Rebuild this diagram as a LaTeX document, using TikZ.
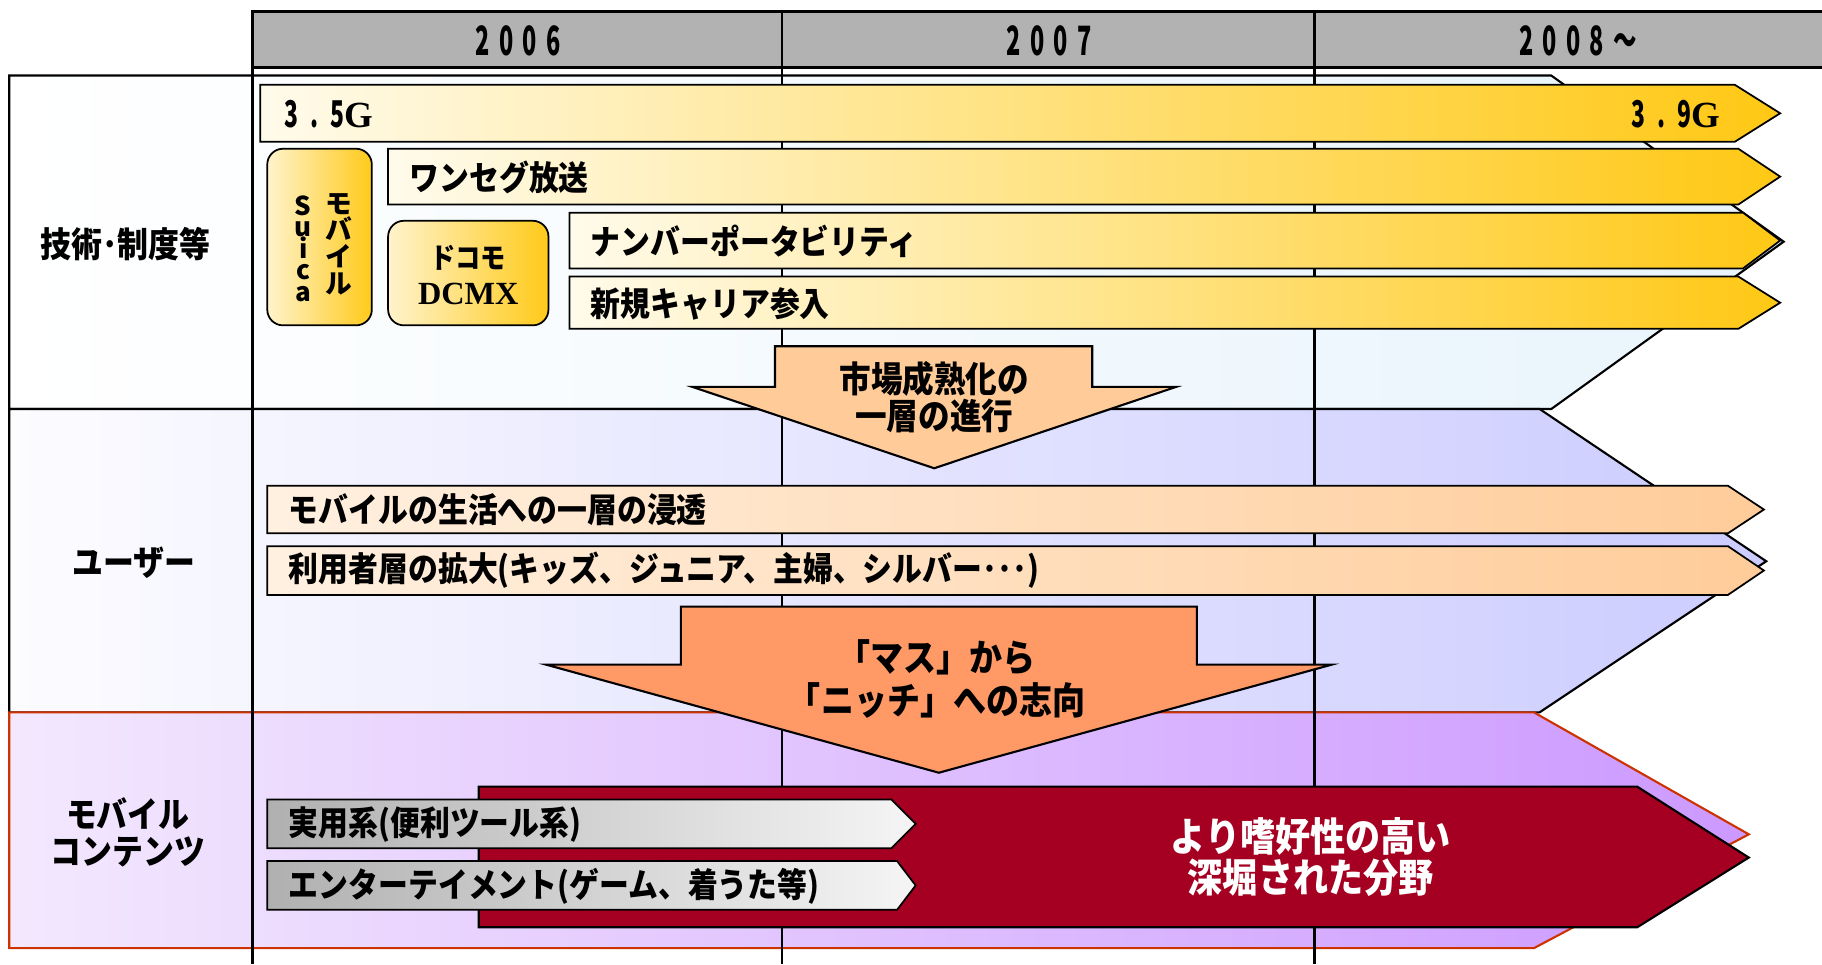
\documentclass[tikz,border=0pt]{standalone}
\usepackage{fontspec}
\usepackage{graphicx}
\setmainfont{Noto Sans CJK JP}
\newfontfamily\tmsfont{Liberation Serif}
\newcommand\myfs[2]{\fontsize{#1}{#2}\selectfont\lineskiplimit=-20pt\relax}
\newcommand\tallt[1]{\scalebox{1}[1.13]{#1}}
\definecolor{hdrgray}{HTML}{B2B2B2}
\definecolor{rowblue}{HTML}{E8F4FC}
\definecolor{rowlav}{HTML}{CCCCFF}
\definecolor{rowlavL}{HTML}{FCFCFF}
\definecolor{rowpur}{HTML}{CC99FF}
\definecolor{rowpurL}{HTML}{F3E8FE}
\definecolor{redline}{HTML}{CC3300}
\definecolor{yelL}{HTML}{FFFBEB}
\definecolor{yelR}{HTML}{FFC814}
\definecolor{boxL}{HTML}{FFF3CC}
\definecolor{boxR}{HTML}{FFCA1A}
\definecolor{orgL}{HTML}{FFF0E0}
\definecolor{orgR}{HTML}{FFCC99}
\definecolor{lightorg}{HTML}{FFCC99}
\definecolor{salmon}{HTML}{FF9966}
\definecolor{darkred}{HTML}{A50021}
\definecolor{grayL}{HTML}{B0B0B0}
\definecolor{grayR}{HTML}{F5F5F5}
\begin{document}
\begin{tikzpicture}[x=0.01162cm,y=-0.01162cm,
  rowline/.style={draw=black, line width=0.6pt},
  gridline/.style={draw=black, line width=0.8pt},
  yelbar/.style={draw=black, line width=0.5pt, left color=yelL, right color=yelR},
  yelbox/.style={draw=black, line width=0.5pt, left color=boxL, right color=boxR, rounded corners=4.5pt},
  orgbar/.style={draw=black, line width=0.5pt, left color=orgL, right color=orgR},
  graybar/.style={draw=black, line width=0.5pt, left color=grayL, right color=grayR},
  bigarrow/.style={draw=black, line width=0.6pt},
  bartext/.style={font=\bfseries\myfs{8.5}{10}, inner sep=0pt, anchor=west},
  rowlabel/.style={font=\bfseries\myfs{8.8}{10.2}, inner sep=0pt},
  yeartext/.style={font=\bfseries\myfs{11.5}{12}, inner sep=0pt},
  arrowtext/.style={font=\bfseries\myfs{9}{10.2}, inner sep=0pt},
  nichetext/.style={font=\bfseries\myfs{9.4}{11}, inner sep=0pt},
  deeptext/.style={font=\bfseries\myfs{10}{11}, inner sep=0pt, text=white}
]
\useasboundingbox (0,0) rectangle (1568,830);
\fill[white] (0,0) rectangle (1568,830);

% row backgrounds
\path[rowline, left color=white, right color=rowblue]
  (8,65) -- (1335,65) -- (1535,208) -- (1335,352) -- (8,352) -- cycle;
\path[rowline, left color=rowlavL, right color=rowlav]
  (8,352) -- (1325,352) -- (1520,483) -- (1325,613) -- (8,613) -- cycle;
\path[draw=redline, line width=0.6pt, left color=rowpurL, right color=rowpur]
  (8,613) -- (1320,613) -- (1505,718) -- (1320,816) -- (8,816) -- cycle;

% grid lines
\draw[gridline] (217,10) -- (217,830);
\draw[gridline] (673,10) -- (673,830);
\draw[gridline] (1131,10) -- (1131,830);

% header
\path[draw=black, line width=0.8pt, fill=hdrgray] (217,10) rectangle (1575,58);
\draw[gridline] (673,10) -- (673,58);
\draw[gridline] (1131,10) -- (1131,58);
\node[yeartext] (y2006) at (446,35) {\scalebox{0.58}[1]{2\hspace{4.6pt}0\hspace{4.6pt}0\hspace{4.6pt}6}};
\node[yeartext] (y2007) at (903,35) {\scalebox{0.58}[1]{2\hspace{4.6pt}0\hspace{4.6pt}0\hspace{4.6pt}7}};
\node[yeartext] (y2008) at (1358,35) {\scalebox{0.58}[1]{2\hspace{4.6pt}0\hspace{4.6pt}0\hspace{4.6pt}8\hspace{4.6pt}～}};

% row labels
\node[rowlabel] (lab1) at (108,210) {\tallt{技術･制度等}};
\node[rowlabel] (lab2) at (115,484) {\tallt{ユーザー}};
\node[rowlabel] (lab3a) at (110,700) {\tallt{モバイル}};
\node[rowlabel] (lab3b) at (110,733) {\tallt{コンテンツ}};

% yellow bars
\path[yelbar] (224,73) -- (1493,73) -- (1532,97.5) -- (1493,122) -- (224,122) -- cycle;
\path[yelbar] (334,128) -- (1496,128) -- (1532,152) -- (1496,176) -- (334,176) -- cycle;
\path[yelbar] (490,183) -- (1500,183) -- (1532,207) -- (1500,231) -- (490,231) -- cycle;
\path[yelbar] (490,238) -- (1496,238) -- (1532,260.5) -- (1496,283) -- (490,283) -- cycle;
\node[font=\bfseries\myfs{10.5}{11}, inner sep=0pt, anchor=west] (g35) at (244,98)
  {\scalebox{0.62}[1]{3\hspace{5.5pt}.\hspace{5.5pt}5}{\tmsfont\bfseries\myfs{10.5}{11}G}};
\node[font=\bfseries\myfs{10.5}{11}, inner sep=0pt, anchor=east] (g39) at (1481,98)
  {\scalebox{0.62}[1]{3\hspace{5.5pt}.\hspace{5.5pt}9}{\tmsfont\bfseries\myfs{10.5}{11}G}};
\node[bartext] (oneseg) at (352,153) {\tallt{ワンセグ放送}};
\node[bartext] (mnp) at (508,208) {\tallt{ナンバーポータビリティ}};
\node[bartext] (newcar) at (508,262) {\tallt{新規キャリア参入}};

% Suica / DCMX boxes
\path[yelbox] (230,128) rectangle (320,280);
\node[font=\bfseries\myfs{7.6}{7.6}, inner sep=0pt, align=center] (mob) at (292,210) {モ\\バ\\イ\\ル};
\node[font=\bfseries\myfs{7.4}{6.1}, inner sep=0pt, align=center] (suica) at (261,214) {S\\u\\i\\c\\a};
\path[yelbox] (334,190) rectangle (472,280);
\node[font=\bfseries\myfs{7.2}{8}, inner sep=0pt] (docomo) at (403,222) {\tallt{ドコモ}};
\node[font=\tmsfont\bfseries\myfs{9.2}{10}, inner sep=0pt] (dcmx) at (403,253) {DCMX};

% market maturity arrow
\path[bigarrow, fill=lightorg] (667,298) -- (940,298) -- (940,333) -- (1012,333) -- (804,403) -- (596,333) -- (667,333) -- cycle;
\node[arrowtext] (mature1) at (804,326) {\tallt{市場成熟化の}};
\node[arrowtext] (mature2) at (804,358) {\tallt{一層の進行}};

% user bars
\path[orgbar] (230,418) -- (1487,418) -- (1518,438.5) -- (1487,459) -- (230,459) -- cycle;
\path[orgbar] (230,470) -- (1487,470) -- (1518,491) -- (1487,512) -- (230,512) -- cycle;
\node[bartext] (ubar1) at (248,439) {\tallt{モバイルの生活への一層の浸透}};
\node[bartext] (ubar2) at (248,491) {\tallt{利用者層の拡大(キッズ、ジュニア、主婦、シルバー･･･)}};

% mass -> niche arrow
\path[bigarrow, fill=salmon] (586,522) -- (1030,522) -- (1030,572) -- (1146,572) -- (808,665) -- (470,572) -- (586,572) -- cycle;
\node[nichetext] (niche1) at (806,566) {\tallt{「マス」から}};
\node[nichetext] (niche2) at (806,603) {\tallt{「ニッチ」への志向}};

% contents
\path[bigarrow, fill=darkred] (412,677) -- (1409,677) -- (1505,738) -- (1409,798) -- (412,798) -- cycle;
\node[deeptext] (deep1) at (1128,720) {\tallt{より嗜好性の高い}};
\node[deeptext] (deep2) at (1128,755) {\tallt{深堀された分野}};
\path[graybar] (230,688) -- (767,688) -- (788,709) -- (767,730) -- (230,730) -- cycle;
\path[graybar] (230,741) -- (772,741) -- (788,762) -- (772,783) -- (230,783) -- cycle;
\node[bartext] (practical) at (248,710) {\tallt{実用系(便利ツール系)}};
\node[bartext] (enter) at (248,763) {\tallt{エンターテイメント(ゲーム、着うた等)}};
\end{tikzpicture}
\end{document}
